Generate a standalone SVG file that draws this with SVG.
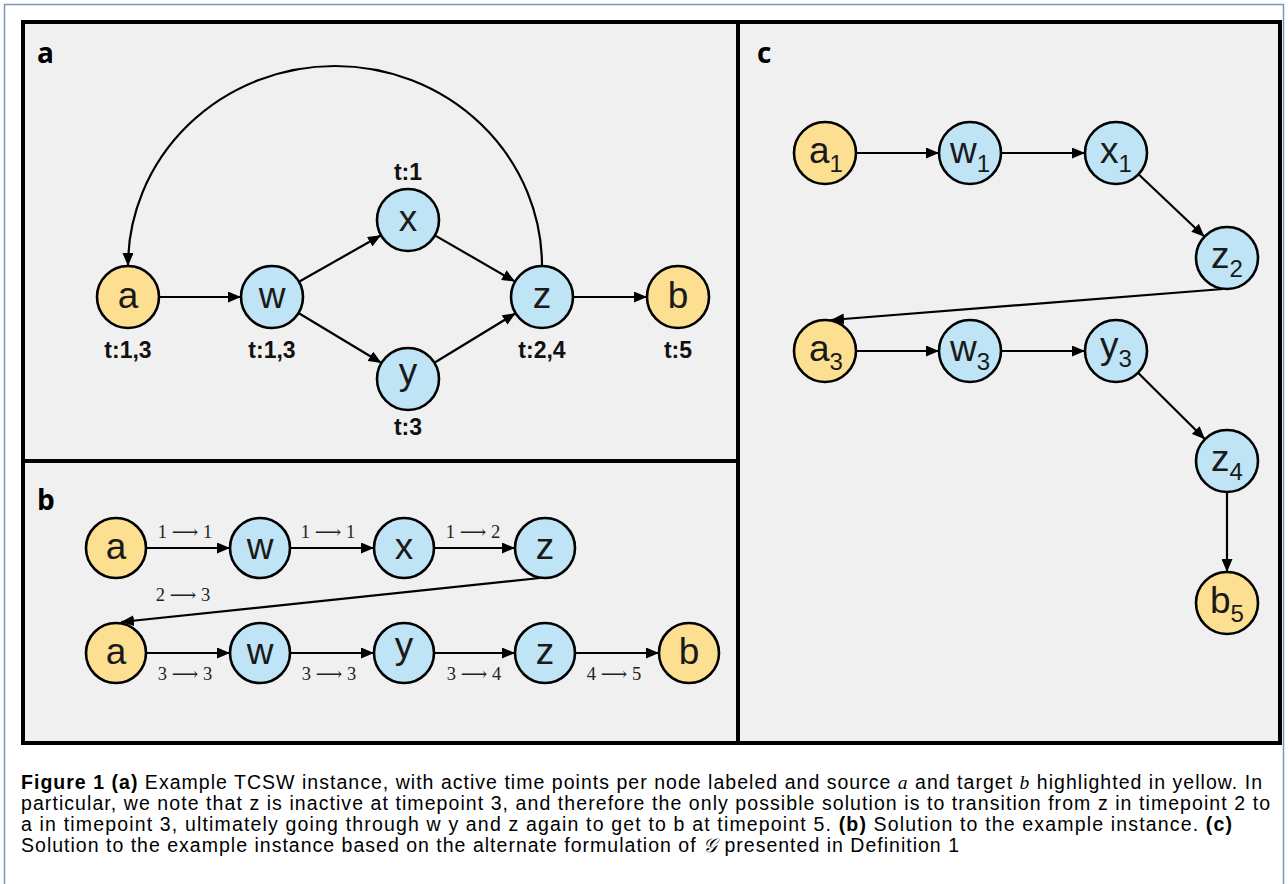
<svg xmlns="http://www.w3.org/2000/svg" width="1288" height="884" viewBox="0 0 1288 884">
<defs>
<marker id="arr" markerUnits="userSpaceOnUse" markerWidth="14" markerHeight="11" refX="13" refY="5.5" orient="auto">
<path d="M0,0 L13,5.5 L0,11 z" fill="#000"/>
</marker>
<style>
.frame{fill:#f0f0f0;stroke:#000;stroke-width:4}
.div{stroke:#000;stroke-width:4}
.yel{fill:#fddf92;stroke:#000;stroke-width:2.6}
.blu{fill:#bee4f5;stroke:#000;stroke-width:2.6}
.nl{font-family:"Liberation Sans",Arial,sans-serif;font-size:37px;fill:#1a1a1a;text-anchor:middle}
.sub{font-size:24px}
.tl{font-family:"Liberation Sans",Arial,sans-serif;font-size:23px;font-weight:bold;fill:#111;text-anchor:middle}
.pl{font-family:"Open Sans","Liberation Sans",sans-serif;font-size:28px;font-weight:bold;fill:#000}
.el{font-family:"Liberation Serif","DejaVu Serif",serif;font-size:18.5px;fill:#222;text-anchor:middle}
.e{fill:none;stroke:#000;stroke-width:2.2;marker-end:url(#arr)}
.cap{font-family:"Liberation Sans",Arial,sans-serif;font-size:19.5px;fill:#000}
.b{font-weight:bold}
.i{font-family:"Liberation Serif",serif;font-style:italic}
</style>
</defs>
<rect x="0" y="0" width="1288" height="884" fill="#fff"/>
<rect x="4.5" y="4.5" width="1279" height="900" fill="none" stroke="#7d97bb" stroke-width="1.5"/>
<rect class="frame" x="23" y="22" width="1257" height="721"/>
<line class="div" x1="738" y1="22" x2="738" y2="743"/>
<line class="div" x1="23" y1="461" x2="738" y2="461"/>
<text class="pl" x="37" y="63">a</text>
<text class="pl" x="37" y="510">b</text>
<text class="pl" x="757" y="63">c</text>

<g id="connectors">
<path class="e" d="M542 266 A207 200 0 0 0 128 266"/>
<path class="e" d="M159 297 L241 297"/>
<path class="e" d="M299 281.7 L381 235.3"/>
<path class="e" d="M298.5 313 L381.5 363"/>
<path class="e" d="M434.9 235.4 L515.1 281.6"/>
<path class="e" d="M434.4 362.8 L515.6 313.2"/>
<path class="e" d="M573 297 L647 297"/>

<path class="e" d="M146 548 L230 548"/>
<path class="e" d="M290 548 L374 548"/>
<path class="e" d="M434 548 L515 548"/>
<path class="e" d="M540 578 L121 622"/>
<path class="e" d="M146 653 L230 653"/>
<path class="e" d="M290 653 L374 653"/>
<path class="e" d="M434 653 L515 653"/>
<path class="e" d="M575 653 L659 653"/>

<path class="e" d="M856 153 L939 153"/>
<path class="e" d="M1001 153 L1085 153"/>
<path class="e" d="M1138.5 174.3 L1204.5 236.7"/>
<path class="e" d="M1223 289 L831 320"/>
<path class="e" d="M856 351 L939 351"/>
<path class="e" d="M1001 351 L1085 351"/>
<path class="e" d="M1138 372.8 L1205 439.2"/>
<path class="e" d="M1227 492 L1227 572"/>
</g>

<g id="edge-labels">
<text class="el" x="185" y="538">1 ⟶ 1</text>
<text class="el" x="328" y="538">1 ⟶ 1</text>
<text class="el" x="473" y="538">1 ⟶ 2</text>
<text class="el" x="183" y="601">2 ⟶ 3</text>
<text class="el" x="185" y="680">3 ⟶ 3</text>
<text class="el" x="329" y="680">3 ⟶ 3</text>
<text class="el" x="474" y="680">3 ⟶ 4</text>
<text class="el" x="614" y="680">4 ⟶ 5</text>
</g>

<g id="pa-a"><circle class="yel" cx="128" cy="297" r="31"/><text class="nl" x="128" y="308">a</text><text class="tl" x="128" y="358">t:1,3</text></g>
<g id="pa-w"><circle class="blu" cx="272" cy="297" r="31"/><text class="nl" x="272" y="308">w</text><text class="tl" x="272" y="358">t:1,3</text></g>
<g id="pa-x"><circle class="blu" cx="408" cy="220" r="31"/><text class="nl" x="408" y="231">x</text><text class="tl" x="408" y="180">t:1</text></g>
<g id="pa-y"><circle class="blu" cx="408" cy="379" r="31"/><text class="nl" x="408" y="384">y</text><text class="tl" x="408" y="435">t:3</text></g>
<g id="pa-z"><circle class="blu" cx="542" cy="297" r="31"/><text class="nl" x="542" y="308">z</text><text class="tl" x="542" y="358">t:2,4</text></g>
<g id="pa-b"><circle class="yel" cx="678" cy="297" r="31"/><text class="nl" x="678" y="308">b</text><text class="tl" x="678" y="358">t:5</text></g>

<g id="pb-a1"><circle class="yel" cx="116" cy="548" r="30"/><text class="nl" x="116" y="559">a</text></g>
<g id="pb-w1"><circle class="blu" cx="260" cy="548" r="30"/><text class="nl" x="260" y="559">w</text></g>
<g id="pb-x1"><circle class="blu" cx="404" cy="548" r="30"/><text class="nl" x="404" y="559">x</text></g>
<g id="pb-z1"><circle class="blu" cx="545" cy="548" r="30"/><text class="nl" x="545" y="559">z</text></g>
<g id="pb-a2"><circle class="yel" cx="116" cy="653" r="30"/><text class="nl" x="116" y="664">a</text></g>
<g id="pb-w2"><circle class="blu" cx="260" cy="653" r="30"/><text class="nl" x="260" y="664">w</text></g>
<g id="pb-y2"><circle class="blu" cx="404" cy="653" r="30"/><text class="nl" x="404" y="658">y</text></g>
<g id="pb-z2"><circle class="blu" cx="545" cy="653" r="30"/><text class="nl" x="545" y="664">z</text></g>
<g id="pb-b2"><circle class="yel" cx="689" cy="653" r="30"/><text class="nl" x="689" y="664">b</text></g>

<g id="pc-a1"><circle class="yel" cx="825" cy="153" r="31"/><text class="nl" x="826" y="163">a<tspan class="sub" dy="9">1</tspan></text></g>
<g id="pc-w1"><circle class="blu" cx="970" cy="153" r="31"/><text class="nl" x="970" y="163">w<tspan class="sub" dy="9">1</tspan></text></g>
<g id="pc-x1"><circle class="blu" cx="1116" cy="153" r="31"/><text class="nl" x="1116" y="163">x<tspan class="sub" dy="9">1</tspan></text></g>
<g id="pc-z2"><circle class="blu" cx="1227" cy="258" r="31"/><text class="nl" x="1227" y="268">z<tspan class="sub" dy="9">2</tspan></text></g>
<g id="pc-a3"><circle class="yel" cx="825" cy="351" r="31"/><text class="nl" x="826" y="361">a<tspan class="sub" dy="9">3</tspan></text></g>
<g id="pc-w3"><circle class="blu" cx="970" cy="351" r="31"/><text class="nl" x="970" y="361">w<tspan class="sub" dy="9">3</tspan></text></g>
<g id="pc-y3"><circle class="blu" cx="1116" cy="351" r="31"/><text class="nl" x="1116" y="358">y<tspan class="sub" dy="9">3</tspan></text></g>
<g id="pc-z4"><circle class="blu" cx="1227" cy="461" r="31"/><text class="nl" x="1227" y="471">z<tspan class="sub" dy="9">4</tspan></text></g>
<g id="pc-b5"><circle class="yel" cx="1227" cy="603" r="31"/><text class="nl" x="1227" y="613">b<tspan class="sub" dy="9">5</tspan></text></g>

<g id="caption">
<text class="cap" x="21" y="789" textLength="1241" lengthAdjust="spacing"><tspan class="b">Figure 1</tspan>  <tspan class="b">(a)</tspan> Example TCSW instance, with active time points per node labeled and source <tspan class="i">a</tspan> and target <tspan class="i">b</tspan> highlighted in yellow. In</text>
<text class="cap" x="21" y="810" textLength="1249" lengthAdjust="spacing">particular, we note that z is inactive at timepoint 3, and therefore the only possible solution is to transition from z in timepoint 2 to</text>
<text class="cap" x="21" y="831" textLength="1211" lengthAdjust="spacing">a in timepoint 3, ultimately going through w y and z again to get to b at timepoint 5. <tspan class="b">(b)</tspan> Solution to the example instance. <tspan class="b">(c)</tspan></text>
<text class="cap" x="21" y="852" textLength="938" lengthAdjust="spacing">Solution to the example instance based on the alternate formulation of <tspan class="i">𝒢</tspan> presented in Definition 1</text>
</g>
</svg>
